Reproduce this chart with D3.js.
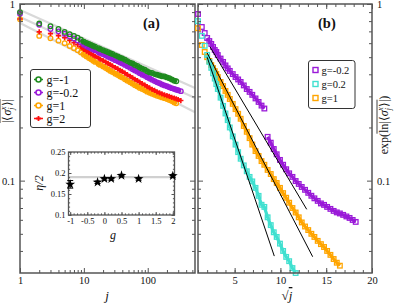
<!DOCTYPE html>
<html><head><meta charset="utf-8">
<script src="https://cdn.jsdelivr.net/npm/d3@7"></script>
<style>
body{margin:0;background:#fff}
svg{display:block}
text{font-family:"Liberation Serif","Times New Roman",serif;fill:#111}
</style>
</head><body>
<svg id="c" width="395" height="308"></svg>
<script>
// ---------- DATA ----------
// panel (a): j grid and |<sigma>| values
const jA = [1,2,3,4,5,6,7,8,9,10,11,12,13,14,15,17,18,20,22,24,26,28,31,34,37,40,44,48,53,58,63,69,75,82,90,98,107,117,128,140,153,167,183,200,218,238,260,280,300,330];
const gM1A = [0.90,0.775,0.748,0.722,0.695,0.675,0.66,0.645,0.628,0.612,0.602,0.594,0.586,0.579,0.573,0.562,0.556,0.547,0.540,0.533,0.526,0.521,0.512,0.505,0.497,0.492,0.484,0.475,0.466,0.46,0.452,0.446,0.437,0.43,0.424,0.416,0.41,0.407,0.401,0.398,0.394,0.39,0.389,0.384,0.38,0.374,0.368,0.365];
const gM02A = [0.88,0.762,0.722,0.70,0.678,0.655,0.638,0.622,0.606,0.588,0.577,0.568,0.56,0.553,0.546,0.533,0.528,0.519,0.511,0.503,0.496,0.49,0.481,0.474,0.466,0.46,0.452,0.444,0.435,0.427,0.42,0.413,0.406,0.398,0.392,0.385,0.379,0.372,0.366,0.36,0.356,0.35,0.346,0.342,0.338,0.334,0.33,0.327,0.325,0.321];
const g1A = [0.82,0.66,0.64,0.62,0.60,0.578,0.562,0.547,0.531,0.516,0.505,0.495,0.486,0.477,0.47,0.458,0.452,0.443,0.434,0.426,0.418,0.412,0.403,0.396,0.389,0.383,0.375,0.368,0.36,0.354,0.347,0.341,0.335,0.33,0.325,0.319,0.314,0.31,0.306,0.302,0.299,0.296,0.293,0.29,0.286,0.282,0.277,0.274];
const g2A = [0.822,0.695,0.68,0.662,0.645,0.622,0.603,0.588,0.572,0.553,0.541,0.531,0.522,0.514,0.506,0.494,0.488,0.478,0.469,0.461,0.453,0.446,0.437,0.429,0.421,0.415,0.406,0.398,0.39,0.382,0.375,0.368,0.361,0.354,0.348,0.341,0.335,0.329,0.324,0.318,0.314,0.31,0.306,0.303,0.30,0.296,0.293,0.29,0.288,0.284];
// gray power-law guides in (a): value at j=1 and at j=550
const guideJ = [1,550];
const guide1 = [0.925,0.335];
const guide2 = [0.844,0.294];
const guide3 = [0.78,0.244];
// inset: eta/2 vs g
const insetG = [-1,-0.2,0,0.2,0.5,1,2];
const insetEta = [0.173,0.178,0.186,0.186,0.194,0.186,0.193];
const insetErr = [0.009,0.003,0.003,0.003,0.003,0.003,0.003];
const insetRef = 0.19;
// panel (b): j grid and typical values
const jB = [1,2,3,4,5,6,7,8,9,10,12,14,16,18,20,23,26,29,32,36,40,44,48,53,58,63,68,74,80,86,92,99,106,113,120,128,136,144,152,161,170,179,188,198,208,218,228,239,250,261,272,284,296,308,320,332];
const gM02B = [0.878,0.741,0.685,0.642,0.617,0.594,0.571,0.549,0.535,0.514,0.491,0.47,0.449,0.432,0.418,0.401,0.386,0.374,0.362,0.346,0.33,0.318,0.306,0.292,0.279,0.266,0.256,0.177,0.164,0.151,0.141,0.131,0.123,0.116,0.11,0.105,0.0995,0.0958,0.0921,0.0887,0.0853,0.0821,0.0794,0.0768,0.0743,0.0729,0.071,0.0692,0.0674,0.0661,0.0652,0.064,0.0627,0.0615,0.0599,0.0584];
const gM02Break = 70; // data set jumps between j=68 and j=74
const g02B = [0.80,0.66,0.58,0.515,0.47,0.435,0.405,0.378,0.352,0.33,0.295,0.265,0.24,0.22,0.20,0.178,0.16,0.145,0.133,0.122,0.113,0.105,0.099,0.091,0.082,0.073,0.071,0.062,0.056,0.051,0.048,0.044,0.040,0.037,0.035,0.032,0.030];
const g1B = [0.729,0.586,0.535,0.50,0.476,0.451,0.434,0.417,0.402,0.386,0.362,0.343,0.322,0.306,0.29,0.272,0.254,0.239,0.224,0.204,0.189,0.174,0.16,0.147,0.138,0.129,0.123,0.115,0.109,0.102,0.097,0.091,0.085,0.08,0.075,0.07,0.066,0.062,0.058,0.055,0.0525,0.05,0.048,0.0456,0.0437,0.0421,0.040,0.038,0.036,0.0343,0.033];
// fit lines in (b): [sqrt(j) start, end], [value start, end]
const fitS = {m02:[2.31,12.87], p02:[2.0,9.33], p1:[2.0,13.52]};
const fitV = {m02:[0.573,0.0688], p02:[0.50,0.0374], p1:[0.528,0.0371]};
// tick labels
const xTicksA = [1,10,100];
const yTicks = [1,0.1];
const xTicksB = [5,10,15,20];
const insetXTicks = [-1,-0.5,0,0.5,1,1.5,2];
const insetYTicks = [0.1,0.15,0.2,0.25];

// ---------- SETUP ----------
const svg = d3.select("#c");
const C = {green:"#1e8b1e", purple:"#9a1ad8", orange:"#ffa500", red:"#ff1010", cyan:"#40e0d0", frame:"#555"};
const yTop=4, yBot=273;
const xA = d3.scaleLog().domain([1,550]).range([20,195]);
const yL = d3.scaleLog().domain([0.03,1]).range([yBot,yTop]);
const xB = d3.scaleLinear().domain([1,20]).range([198,372]);

const minorLogY = [0.04,0.05,0.06,0.07,0.08,0.09,0.2,0.3,0.4,0.5,0.6,0.7,0.8,0.9];
const minorLogX = [2,3,4,5,6,7,8,9,20,30,40,50,60,70,80,90,200,300,400,500];

function styleAxis(g){
  g.select(".domain").remove();
  g.selectAll("line").attr("stroke",C.frame).attr("stroke-width",1);
  g.selectAll("text").style("font-family",'"Liberation Serif","Times New Roman",serif').attr("fill","#111");
}
function axisSet(gen, tr, vals, len, fmt, pad, fs){
  const g = svg.append("g").attr("transform",tr)
    .call(gen.tickValues(vals).tickSize(-len).tickPadding(pad||4).tickFormat(fmt||(()=> "")));
  styleAxis(g);
  g.selectAll("text").style("font-size",(fs||10)+"px");
  return g;
}

// ---------- PANEL (a) ----------
[guide1,guide2,guide3].forEach(gd=>{
  svg.append("path").attr("d",d3.line().x(d=>xA(d[0])).y(d=>yL(d[1]))(guideJ.map((j,i)=>[j,gd[i]])))
    .attr("stroke","#d9d9d9").attr("stroke-width",2.2).attr("fill","none");
});
const lineA = d3.line().x(d=>xA(d[0])).y(d=>yL(d[1]));
function bandA(vals,color){
  const pts = vals.map((v,i)=>[jA[i],v]);
  svg.append("path").attr("d",lineA(pts.filter(d=>d[0]>=9))).attr("fill","none")
    .attr("stroke",color).attr("stroke-width",3.4).attr("stroke-linejoin","round");
  return pts;
}
function circles(vals,color){
  const pts = bandA(vals,color);
  svg.append("g").selectAll("circle").data(pts).join("circle")
    .attr("cx",d=>xA(d[0])).attr("cy",d=>yL(d[1])).attr("r",2.3)
    .attr("fill","none").attr("stroke",color).attr("stroke-width",1.3);
}
const plus = "M-2.6,0H2.6M0,-2.6V2.6";
circles(g1A,C.orange);
(function(){
  const pts = bandA(g2A,C.red);
  svg.append("g").selectAll("path").data(pts).join("path")
    .attr("d",plus).attr("transform",d=>`translate(${xA(d[0])},${yL(d[1])})`)
    .attr("stroke",C.red).attr("stroke-width",1.6).attr("fill","none");
})();
circles(gM02A,C.purple);
circles(gM1A,C.green);

// axes (a)
axisSet(d3.axisBottom(xA), `translate(0,${yBot})`, xTicksA, 5, d=>d, 4, 10.5);
axisSet(d3.axisBottom(xA), `translate(0,${yBot})`, minorLogX, 3);
axisSet(d3.axisTop(xA), `translate(0,${yTop})`, xTicksA, 5);
axisSet(d3.axisTop(xA), `translate(0,${yTop})`, minorLogX, 3);
axisSet(d3.axisLeft(yL), `translate(20,0)`, yTicks, 5, d=>d, 5, 10.5);
axisSet(d3.axisLeft(yL), `translate(20,0)`, minorLogY, 3);
axisSet(d3.axisRight(yL), `translate(195,0)`, yTicks, 5);
axisSet(d3.axisRight(yL), `translate(195,0)`, minorLogY, 3);
svg.append("rect").attr("x",20).attr("y",yTop).attr("width",175).attr("height",yBot-yTop)
  .attr("fill","none").attr("stroke",C.frame).attr("stroke-width",1.5);

// legend (a)
const legA = svg.append("g");
legA.append("rect").attr("x",30.5).attr("y",69.5).attr("width",60).attr("height",58).attr("rx",2.5)
  .attr("fill","#fff").attr("stroke","#333").attr("stroke-width",1);
const legAItems = [["g=-1",C.green,"c"],["g=-0.2",C.purple,"c"],["g=1",C.orange,"c"],["g=2",C.red,"p"]];
legAItems.forEach((it,i)=>{
  const y = 79.5 + i*13;
  legA.append("line").attr("x1",34).attr("x2",43).attr("y1",y).attr("y2",y).attr("stroke",it[1]).attr("stroke-width",1.5);
  if(it[2]==="c") legA.append("circle").attr("cx",38.5).attr("cy",y).attr("r",2.5).attr("fill","#fff").attr("stroke",it[1]).attr("stroke-width",1.6);
  else legA.append("path").attr("d",plus).attr("transform",`translate(38.5,${y})`).attr("stroke",it[1]).attr("stroke-width",1.8);
  legA.append("text").attr("x",46.5).attr("y",y+4).style("font-size","12px").text(it[0]);
});
svg.append("text").attr("x",143).attr("y",28).style("font-size","14.5px").style("font-weight","bold").text("(a)");

// inset
const ix = d3.scaleLinear().domain([-1.05,2.05]).range([68.5,174.5]);
const iy = d3.scaleLinear().domain([0.1,0.25]).range([215,152]);
svg.append("rect").attr("x",68.5).attr("y",152).attr("width",106).attr("height",63).attr("fill","#fff");
svg.append("line").attr("x1",68.5).attr("x2",174.5).attr("y1",iy(insetRef)).attr("y2",iy(insetRef))
  .attr("stroke","#d0d0d0").attr("stroke-width",2.2);
const minorIX = d3.range(-10,21).map(d=>d/10);
const minorIY = d3.range(10,26).map(d=>d/100);
axisSet(d3.axisBottom(ix), `translate(0,215)`, insetXTicks, 3, d=>d, 3, 8.5);
axisSet(d3.axisBottom(ix), `translate(0,215)`, minorIX, 1.6);
axisSet(d3.axisTop(ix), `translate(0,152)`, insetXTicks, 3);
axisSet(d3.axisTop(ix), `translate(0,152)`, minorIX, 1.6);
axisSet(d3.axisLeft(iy), `translate(68.5,0)`, insetYTicks, 3, d=>d, 3, 8.5);
axisSet(d3.axisLeft(iy), `translate(68.5,0)`, minorIY, 1.6);
axisSet(d3.axisRight(iy), `translate(174.5,0)`, insetYTicks, 3);
axisSet(d3.axisRight(iy), `translate(174.5,0)`, minorIY, 1.6);
svg.append("rect").attr("x",68.5).attr("y",152).attr("width",106).attr("height",63)
  .attr("fill","none").attr("stroke",C.frame).attr("stroke-width",1.3);
const ins = svg.append("g");
insetG.forEach((g,i)=>{
  const x = ix(g), y0=iy(insetEta[i]-insetErr[i]), y1=iy(insetEta[i]+insetErr[i]);
  ins.append("line").attr("x1",x).attr("x2",x).attr("y1",y0).attr("y2",y1).attr("stroke","#000").attr("stroke-width",1);
  ins.append("line").attr("x1",x-3).attr("x2",x+3).attr("y1",y0).attr("y2",y0).attr("stroke","#000").attr("stroke-width",1);
  ins.append("line").attr("x1",x-3).attr("x2",x+3).attr("y1",y1).attr("y2",y1).attr("stroke","#000").attr("stroke-width",1);
  ins.append("path").attr("d",d3.symbol(d3.symbolStar,30)()).attr("transform",`translate(${x},${iy(insetEta[i])})`).attr("fill","#000");
});
svg.append("text").attr("transform","translate(43,183) rotate(-90)").attr("text-anchor","middle")
  .style("font-size","12px").style("font-style","italic").text("η/2");
svg.append("text").attr("x",113).attr("y",239).attr("text-anchor","middle")
  .style("font-size","12px").style("font-style","italic").text("g");

// x label (a)
svg.append("text").attr("x",107).attr("y",300).attr("text-anchor","middle")
  .style("font-size","13px").style("font-style","italic").text("j");

// y label with overline
function sigmaLabel(parent, prefix, suffix){
  const t = parent.append("text").attr("x",0).attr("y",0).style("font-size","12px");
  const t1 = t.append("tspan").text(prefix);
  t.append("tspan").text("|⟨");
  t.append("tspan").style("font-style","italic").text("σ");
  t.append("tspan").attr("dy",3).style("font-size","8px").style("font-style","italic").text("j");
  t.append("tspan").attr("dx",-2.5).attr("dy",-8).style("font-size","8px").style("font-style","italic").text("x");
  t.append("tspan").attr("dy",5).text("⟩|");
  const t6 = t.append("tspan").text(suffix);
  const bb = t.node().getBBox();
  const w = bb.width;
  t.attr("x",-w/2);
  const l1 = prefix? t1.node().getComputedTextLength():0;
  const l6 = suffix? t6.node().getComputedTextLength():0;
  return {t, x0:-w/2, w, l1, l6};
}
const gLab = svg.append("g").attr("transform","translate(11,111) rotate(-90)");
const sL = sigmaLabel(gLab,"","");
gLab.append("line").attr("x1",sL.x0).attr("x2",sL.x0+sL.w).attr("y1",-11).attr("y2",-11).attr("stroke","#111").attr("stroke-width",0.8);

// ---------- PANEL (b) ----------
const lineB = d3.line().x(d=>xB(d[0])).y(d=>yL(d[1]));
function squares(vals,color,brk){
  const pts = vals.map((v,i)=>[Math.sqrt(jB[i]),v,jB[i]]);
  const segs = brk ? [pts.filter(d=>d[2]<brk), pts.filter(d=>d[2]>brk)] : [pts];
  segs.forEach(s=>{
    svg.append("path").attr("d",lineB(s.filter(d=>d[2]>=4))).attr("fill","none")
      .attr("stroke",color).attr("stroke-width",3.2).attr("stroke-linejoin","round");
  });
  svg.append("g").selectAll("rect").data(pts).join("rect")
    .attr("x",d=>xB(d[0])-2.3).attr("y",d=>yL(d[1])-2.3).attr("width",4.6).attr("height",4.6)
    .attr("fill","none").attr("stroke",color).attr("stroke-width",1.3);
}
squares(gM02B,C.purple,gM02Break);
squares(g1B,C.orange);
squares(g02B,C.cyan);
Object.keys(fitS).forEach(k=>{
  svg.append("line").attr("x1",xB(fitS[k][0])).attr("x2",xB(fitS[k][1]))
    .attr("y1",yL(fitV[k][0])).attr("y2",yL(fitV[k][1])).attr("stroke","#000").attr("stroke-width",1);
});
const minorB = d3.range(1,21);
axisSet(d3.axisBottom(xB), `translate(0,${yBot})`, xTicksB, 5, d=>d, 4, 10.5);
axisSet(d3.axisBottom(xB), `translate(0,${yBot})`, minorB, 3);
axisSet(d3.axisTop(xB), `translate(0,${yTop})`, xTicksB, 5);
axisSet(d3.axisTop(xB), `translate(0,${yTop})`, minorB, 3);
axisSet(d3.axisLeft(yL), `translate(198,0)`, yTicks, 5);
axisSet(d3.axisLeft(yL), `translate(198,0)`, minorLogY, 3);
axisSet(d3.axisRight(yL), `translate(372,0)`, yTicks, 5, d=>d, 5, 10.5);
axisSet(d3.axisRight(yL), `translate(372,0)`, minorLogY, 3);
svg.append("rect").attr("x",198).attr("y",yTop).attr("width",174).attr("height",yBot-yTop)
  .attr("fill","none").attr("stroke",C.frame).attr("stroke-width",1.5);

// legend (b)
const legB = svg.append("g");
legB.append("rect").attr("x",308.5).attr("y",60.5).attr("width",46.5).attr("height",48).attr("rx",2.5)
  .attr("fill","#fff").attr("stroke","#333").attr("stroke-width",1);
[["g=-0.2",C.purple],["g=0.2",C.cyan],["g=1",C.orange]].forEach((it,i)=>{
  const y = 70 + i*14;
  legB.append("rect").attr("x",313).attr("y",y-2.5).attr("width",5).attr("height",5)
    .attr("fill","none").attr("stroke",it[1]).attr("stroke-width",1.4);
  legB.append("text").attr("x",321.5).attr("y",y+3.5).style("font-size","10.5px").text(it[0]);
});
svg.append("text").attr("x",318).attr("y",28).style("font-size","14.5px").style("font-weight","bold").text("(b)");

// x label (b)
const xl = svg.append("text").attr("x",287).attr("y",300).attr("text-anchor","middle").style("font-size","13px");
xl.append("tspan").text("√");
xl.append("tspan").style("font-style","italic").style("text-decoration","overline").text("j");

// y label (b)
const gLabB = svg.append("g").attr("transform","translate(388,125) rotate(-90)");
const sR = sigmaLabel(gLabB,"exp(ln",")");
gLabB.append("line").attr("x1",sR.x0+sR.l1-10).attr("x2",sR.x0+sR.w-sR.l6).attr("y1",-11).attr("y2",-11).attr("stroke","#111").attr("stroke-width",0.8);
</script>
</body></html>
